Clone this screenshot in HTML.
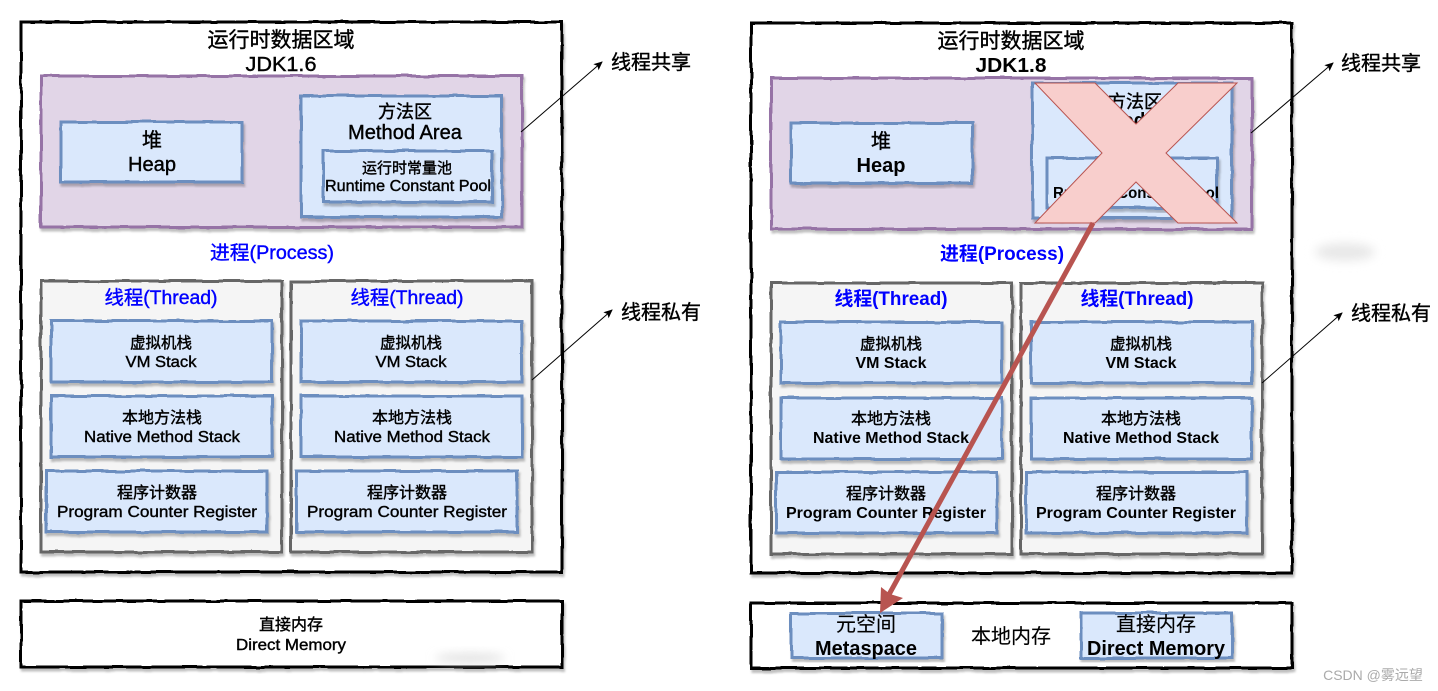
<!DOCTYPE html>
<html><head><meta charset="utf-8"><style>
html,body{margin:0;padding:0;background:#fff;width:1438px;height:691px;overflow:hidden}
svg{display:block}
text{font-family:"Liberation Sans","Noto Sans CJK SC",sans-serif;text-anchor:middle;fill:#000;stroke:#000;stroke-width:.4}
.b text{font-weight:bold;stroke:none}
.b .n{font-weight:normal;stroke:#000;stroke-width:.4}
.b .t{font-weight:normal;stroke:#000;stroke-width:.15}
.blue{fill:#0000ff;stroke:#0000ff}
.b .blue{fill:#0000ff}
.s rect{filter:url(#w)}
.k{fill:#fff;stroke:#000;stroke-width:3}
.p{fill:#e1d5e7;stroke:#9673a6;stroke-width:3}
.u{fill:#dae8fc;stroke:#6c8ebf;stroke-width:3}
.g{fill:#f5f5f5;stroke:#666;stroke-width:3}
</style></head><body>
<svg width="1438" height="691" viewBox="0 0 1438 691" xmlns="http://www.w3.org/2000/svg">
<defs>
<filter id="w" x="-5%" y="-5%" width="110%" height="115%">
<feTurbulence type="fractalNoise" baseFrequency="0.045" numOctaves="2" seed="4" result="n"/>
<feDisplacementMap in="SourceGraphic" in2="n" scale="3" xChannelSelector="R" yChannelSelector="G" result="d"/>
<feOffset in="d" dx="1.5" dy="3" result="o"/>
<feGaussianBlur in="o" stdDeviation="1" result="bl"/>
<feColorMatrix in="bl" type="matrix" values="0 0 0 0 0 0 0 0 0 0 0 0 0 0 0 0 0 0 .25 0" result="sh"/>
<feMerge><feMergeNode in="sh"/><feMergeNode in="d"/></feMerge>
</filter>
<filter id="bl" x="-50%" y="-100%" width="200%" height="300%"><feGaussianBlur stdDeviation="5"/></filter>
<marker id="a" markerWidth="10" markerHeight="10" refX="8" refY="4" orient="auto" markerUnits="userSpaceOnUse"><path d="M0 0L9 4L0 8L2 4Z" fill="#000"/></marker>
</defs>

<!-- LEFT shapes -->
<g class="s">
<rect class="k" x="21" y="22" width="541" height="550"/>
<rect class="k" x="21" y="601" width="541" height="66"/>
<rect class="p" x="41" y="76" width="481" height="151"/>
<rect class="u" x="61" y="122" width="181" height="60"/>
<rect class="u" x="301" y="96" width="201" height="121"/>
<rect class="u" x="323" y="151" width="169" height="51"/>
<rect class="g" x="41" y="281" width="241" height="271"/>
<rect class="g" x="291" y="281" width="241" height="271"/>
<rect class="u" x="51" y="321" width="221" height="61"/>
<rect class="u" x="301" y="321" width="221" height="61"/>
<rect class="u" x="51" y="396" width="221" height="61"/>
<rect class="u" x="301" y="396" width="221" height="61"/>
<rect class="u" x="46" y="471" width="221" height="61"/>
<rect class="u" x="296" y="471" width="221" height="61"/>
</g>
<line x1="521" y1="132" x2="602" y2="62" stroke="#000" stroke-width="1" marker-end="url(#a)"/>
<line x1="532" y1="380" x2="612" y2="310" stroke="#000" stroke-width="1" marker-end="url(#a)"/>
<ellipse cx="470" cy="658" rx="35" ry="4" fill="#ddd" filter="url(#bl)"/>

<!-- LEFT text -->
<g>
<text x="281" y="47" font-size="21">运行时数据区域</text>
<text x="281" y="71" font-size="20" textLength="71" lengthAdjust="spacingAndGlyphs">JDK1.6</text>
<text x="152" y="147" font-size="20">堆</text>
<text x="152" y="171" font-size="20" textLength="48" lengthAdjust="spacingAndGlyphs">Heap</text>
<text x="405" y="118" font-size="18">方法区</text>
<text x="405" y="139" font-size="20" textLength="114" lengthAdjust="spacingAndGlyphs">Method Area</text>
<text x="407" y="173" font-size="15">运行时常量池</text>
<text x="408" y="191" font-size="15.5" textLength="166" lengthAdjust="spacingAndGlyphs">Runtime Constant Pool</text>
<text class="blue" x="272" y="259" font-size="19" textLength="124" lengthAdjust="spacingAndGlyphs">进程(Process)</text>
<text class="blue" x="161" y="304" font-size="19" textLength="113" lengthAdjust="spacingAndGlyphs">线程(Thread)</text>
<text class="blue" x="407" y="304" font-size="19" textLength="113" lengthAdjust="spacingAndGlyphs">线程(Thread)</text>
<text x="161" y="348" font-size="15.5">虚拟机栈</text>
<text x="161" y="367" font-size="16" textLength="71" lengthAdjust="spacingAndGlyphs">VM Stack</text>
<text x="411" y="348" font-size="15.5">虚拟机栈</text>
<text x="411" y="367" font-size="16" textLength="71" lengthAdjust="spacingAndGlyphs">VM Stack</text>
<text x="162" y="423" font-size="16">本地方法栈</text>
<text x="162" y="442" font-size="16" textLength="156" lengthAdjust="spacingAndGlyphs">Native Method Stack</text>
<text x="412" y="423" font-size="16">本地方法栈</text>
<text x="412" y="442" font-size="16" textLength="156" lengthAdjust="spacingAndGlyphs">Native Method Stack</text>
<text x="157" y="498" font-size="16">程序计数器</text>
<text x="157" y="517" font-size="16" textLength="200" lengthAdjust="spacingAndGlyphs">Program Counter Register</text>
<text x="407" y="498" font-size="16">程序计数器</text>
<text x="407" y="517" font-size="16" textLength="200" lengthAdjust="spacingAndGlyphs">Program Counter Register</text>
<text x="651" y="69" font-size="20">线程共享</text>
<text x="661" y="319" font-size="20">线程私有</text>
<text x="291" y="630" font-size="16">直接内存</text>
<text x="291" y="650" font-size="16" textLength="110" lengthAdjust="spacingAndGlyphs">Direct Memory</text>
</g>

<!-- RIGHT shapes -->
<g class="s">
<rect class="k" x="751" y="23" width="541" height="550"/>
<rect class="k" x="751" y="603" width="541" height="65"/>
<rect class="p" x="771" y="78" width="481" height="151"/>
<rect class="u" x="791" y="123" width="181" height="60"/>
<rect class="u" x="1032" y="83" width="200" height="135"/>
<rect class="u" x="1047" y="158" width="170" height="50"/>
<rect class="g" x="771" y="283" width="241" height="271"/>
<rect class="g" x="1021" y="283" width="241" height="271"/>
<rect class="u" x="781" y="322" width="221" height="61"/>
<rect class="u" x="1031" y="322" width="221" height="61"/>
<rect class="u" x="781" y="398" width="221" height="61"/>
<rect class="u" x="1031" y="398" width="221" height="61"/>
<rect class="u" x="776" y="472" width="221" height="61"/>
<rect class="u" x="1026" y="472" width="221" height="61"/>
<rect class="u" x="791" y="613" width="151" height="45"/>
<rect class="u" x="1081" y="613" width="151" height="45"/>
</g>
<line x1="1251" y1="133" x2="1333" y2="63" stroke="#000" stroke-width="1" marker-end="url(#a)"/>
<line x1="1262" y1="383" x2="1342" y2="313" stroke="#000" stroke-width="1" marker-end="url(#a)"/>
<ellipse cx="1345" cy="252" rx="30" ry="9" fill="#e8e8e8" filter="url(#bl)"/>

<!-- RIGHT text -->
<g class="b">
<text class="n" x="1011" y="48" font-size="21">运行时数据区域</text>
<text x="1011" y="72" font-size="20" textLength="71" lengthAdjust="spacingAndGlyphs">JDK1.8</text>
<text class="n" x="881" y="148" font-size="20">堆</text>
<text x="881" y="172" font-size="20" textLength="49" lengthAdjust="spacingAndGlyphs">Heap</text>
<text class="n" x="1135" y="108" font-size="18">方法区</text>
<text x="1135" y="127" font-size="20" textLength="114" lengthAdjust="spacingAndGlyphs">Method Area</text>
<text x="1136" y="198" font-size="15.5" textLength="166" lengthAdjust="spacingAndGlyphs">Runtime Constant Pool</text>
<text class="blue" x="1002" y="260" font-size="19" textLength="124" lengthAdjust="spacingAndGlyphs">进程(Process)</text>
<text class="blue" x="891" y="305" font-size="19" textLength="113" lengthAdjust="spacingAndGlyphs">线程(Thread)</text>
<text class="blue" x="1137" y="305" font-size="19" textLength="113" lengthAdjust="spacingAndGlyphs">线程(Thread)</text>
<text class="n" x="891" y="349" font-size="15.5">虚拟机栈</text>
<text x="891" y="368" font-size="16" textLength="71" lengthAdjust="spacingAndGlyphs">VM Stack</text>
<text class="n" x="1141" y="349" font-size="15.5">虚拟机栈</text>
<text x="1141" y="368" font-size="16" textLength="71" lengthAdjust="spacingAndGlyphs">VM Stack</text>
<text class="n" x="891" y="424" font-size="16">本地方法栈</text>
<text x="891" y="443" font-size="16" textLength="156" lengthAdjust="spacingAndGlyphs">Native Method Stack</text>
<text class="n" x="1141" y="424" font-size="16">本地方法栈</text>
<text x="1141" y="443" font-size="16" textLength="156" lengthAdjust="spacingAndGlyphs">Native Method Stack</text>
<text class="n" x="886" y="499" font-size="16">程序计数器</text>
<text x="886" y="518" font-size="16" textLength="200" lengthAdjust="spacingAndGlyphs">Program Counter Register</text>
<text class="n" x="1136" y="499" font-size="16">程序计数器</text>
<text x="1136" y="518" font-size="16" textLength="200" lengthAdjust="spacingAndGlyphs">Program Counter Register</text>
<text class="n" x="1381" y="70" font-size="20">线程共享</text>
<text class="n" x="1391" y="320" font-size="20">线程私有</text>
<text class="t" x="866" y="631" font-size="20">元空间</text>
<text x="866" y="655" font-size="20" textLength="102" lengthAdjust="spacingAndGlyphs">Metaspace</text>
<text class="t" x="1011" y="643" font-size="20">本地内存</text>
<text class="t" x="1156" y="631" font-size="20">直接内存</text>
<text x="1156" y="655" font-size="20" textLength="138" lengthAdjust="spacingAndGlyphs">Direct Memory</text>
</g>

<!-- Red X and arrow -->
<polygon points="1035,83 1095,83 1136,124 1178,83 1237,83 1166,153 1237,223 1178,223 1136,182 1095,223 1035,223 1102,153" fill="#f8cecc" stroke="#b85450" stroke-width="1"/>
<line x1="1093" y1="223" x2="886" y2="600" stroke="#b85450" stroke-width="5"/>
<polygon points="880,613 881,587 890,594 903,598" fill="#b85450"/>

<text x="1373" y="680" font-size="14" style="fill:#aaa;stroke:none">CSDN @雾远望</text>
</svg>
</body></html>
